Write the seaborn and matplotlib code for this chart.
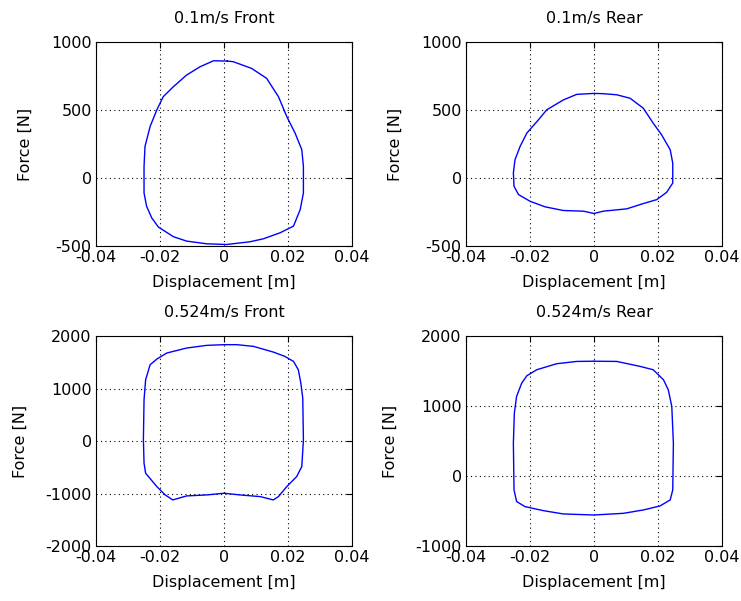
"""
Force vs displacement loops, front and rear damper
"""
import numpy as np
import pandas as pd
import matplotlib
matplotlib.use('Agg')
import matplotlib.pyplot as plt
import seaborn as sns

# 0.1 m/s front loop
x_f01 = [0.0010, 0.0029, 0.0086, 0.0133, 0.0170, 0.0196, 0.0222, 0.0243, 0.0248, 0.0248,
         0.0238, 0.0217, 0.0175, 0.0123, 0.0081, 0.0008, -0.0054, -0.0117, -0.0158, -0.0205,
         -0.0226, -0.0242, -0.0250, -0.0250, -0.0247, -0.0231, -0.0210, -0.0190, -0.0158,
         -0.0117, -0.0075, -0.0033, 0.0010]
y_f01 = [860, 855, 806, 733, 598, 452, 330, 208, 85, -110,
         -232, -354, -403, -447, -469, -489, -484, -464, -432, -361,
         -293, -208, -110, 85, 232, 379, 501, 598, 672,
         757, 818, 862, 860]

# 0.1 m/s rear loop
x_r01 = [0.0000, -0.0054, -0.0096, -0.0148, -0.0174, -0.0210, -0.0231, -0.0247, -0.0252,
         -0.0250, -0.0236, -0.0200, -0.0153, -0.0096, -0.0033, 0.0000, 0.0029, 0.0102,
         0.0154, 0.0196, 0.0227, 0.0246, 0.0246, 0.0238, 0.0211, 0.0185, 0.0154, 0.0113,
         0.0071, 0.0029, 0.0000]
y_r01 = [622, 615, 574, 501, 427, 330, 232, 134, 37,
         -61, -122, -171, -212, -239, -244, -261, -244, -227,
         -188, -159, -105, -37, 110, 208, 318, 403, 513, 586,
         612, 620, 622]

# 0.524 m/s front loop
x_f05 = [0.0000, -0.0054, -0.0117, -0.0179, -0.0210, -0.0231, -0.0245, -0.0250, -0.0252,
         -0.0250, -0.0245, -0.0210, -0.0184, -0.0160, -0.0117, -0.0054, 0.0000, 0.0050,
         0.0113, 0.0154, 0.0170, 0.0196, 0.0227, 0.0243, 0.0248, 0.0246, 0.0240, 0.0232,
         0.0217, 0.0190, 0.0154, 0.0092, 0.0040, 0.0000]
y_f05 = [1835, 1822, 1771, 1676, 1561, 1453, 1167, 785, 22,
         -423, -614, -868, -1027, -1122, -1046, -1027, -995, -1027,
         -1059, -1122, -1059, -868, -677, -486, 22, 817, 1103, 1358,
         1517, 1612, 1694, 1803, 1835, 1835]

# 0.524 m/s rear loop
x_r05 = [0.0000, -0.0054, -0.0117, -0.0179, -0.0210, -0.0226, -0.0242, -0.0249, -0.0252,
         -0.0250, -0.0242, -0.0216, -0.0158, -0.0096, 0.0000, 0.0092, 0.0154, 0.0206,
         0.0238, 0.0246, 0.0248, 0.0243, 0.0232, 0.0217, 0.0185, 0.0144, 0.0071, 0.0000]
y_r05 = [1640, 1637, 1604, 1518, 1432, 1327, 1136, 898, 469,
         -199, -364, -437, -495, -542, -557, -533, -485, -428,
         -342, -199, 469, 994, 1232, 1375, 1518, 1566, 1637, 1640]

titles = ['0.1m/s Front', '0.1m/s Rear', '0.524m/s Front', '0.524m/s Rear']
loops = [(x_f01, y_f01), (x_r01, y_r01), (x_f05, y_f05), (x_r05, y_r05)]
ylims = [(-500, 1000), (-500, 1000), (-2000, 2000), (-1000, 2000)]
yticks = [[-500, 0, 500, 1000], [-500, 0, 500, 1000],
          [-2000, -1000, 0, 1000, 2000], [-1000, 0, 1000, 2000]]
xticks = [-0.04, -0.02, 0, 0.02, 0.04]

sns.set_style('white')
plt.rcParams['font.family'] = ['DejaVu Sans']
plt.rcParams['text.color'] = 'black'
plt.rcParams['axes.labelcolor'] = 'black'
fs = 11.5

fig = plt.figure(figsize=(7.41, 6.01), dpi=100)
# axes rects [left, bottom, width, height]
rects = [[0.1296, 0.5907, 0.3455, 0.3394],
         [0.6289, 0.5907, 0.3455, 0.3394],
         [0.1296, 0.0915, 0.3455, 0.3494],
         [0.6289, 0.0915, 0.3455, 0.3494]]

for i in range(4):
    ax = fig.add_axes(rects[i])
    df = pd.DataFrame({'x': loops[i][0], 'y': loops[i][1]})
    sns.lineplot(data=df, x='x', y='y', sort=False, estimator=None,
                 color='#0000ff', linewidth=1.0, ax=ax)
    ax.set_xlim(-0.04, 0.04)
    ax.set_ylim(*ylims[i])
    ax.set_xticks(xticks)
    ax.set_xticklabels(['-0.04', '-0.02', '0', '0.02', '0.04'])
    ax.set_yticks(yticks[i])
    ax.set_yticklabels([str(v) for v in yticks[i]])
    ax.grid(True, color='black', linestyle=(0, (1, 3)), linewidth=0.8)
    ax.tick_params(direction='in', length=4, top=True, right=True,
                   labelsize=fs, pad=3, colors='black')
    for s in ax.spines.values():
        s.set_color('black')
        s.set_linewidth(0.8)
    ax.set_title(titles[i], fontsize=fs, pad=14, color='black')
    ax.set_xlabel('Displacement [m]', fontsize=fs, labelpad=7)
    ax.set_ylabel('Force [N]', fontsize=fs, labelpad=13)

plt.savefig('out.png', dpi=100)
